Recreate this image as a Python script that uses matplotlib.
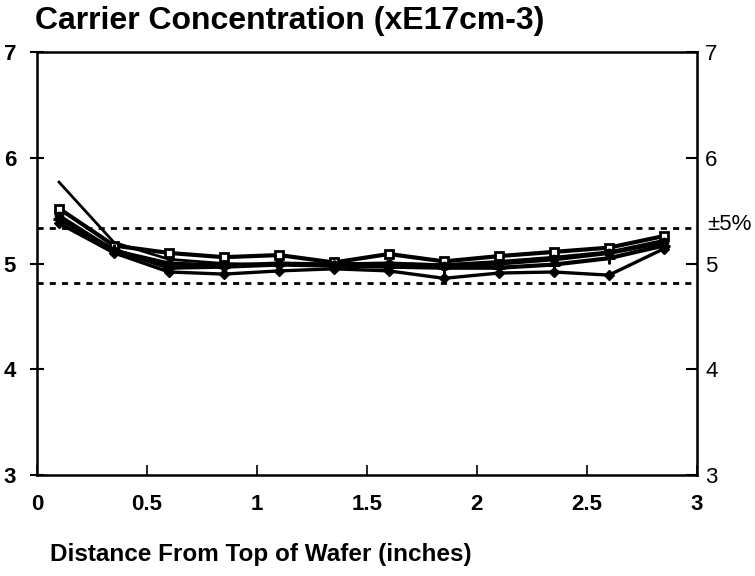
import matplotlib
matplotlib.use("Agg")
import matplotlib.pyplot as plt

plt.rcParams['font.family'] = ['Liberation Sans', 'DejaVu Sans']

# measurement positions along the wafer (inches)
distance = [0.1, 0.35, 0.6, 0.85, 1.1, 1.35, 1.6, 1.85, 2.1, 2.35, 2.6, 2.85]

# carrier concentration, units of 1E17 cm-3
run_a = [5.52, 5.17, 5.10, 5.06, 5.08, 5.01, 5.09, 5.02, 5.07, 5.11, 5.15, 5.26]
run_b = [5.38, 5.10, 4.92, 4.90, 4.93, 4.95, 4.93, 4.86, 4.91, 4.92, 4.89, 5.14]
run_c = [5.45, 5.12, 5.00, 4.98, 5.00, 4.99, 5.00, 4.98, 5.00, 5.04, 5.10, 5.20]
run_d = [5.42, 5.13, 4.96, 4.97, 4.99, 4.98, 4.97, 4.96, 4.96, 4.99, 5.05, 5.17]
run_e = [5.77, 5.20, 5.04, 5.00, 4.99, 5.00, 5.00, 4.99, 5.02, 5.06, 5.11, 5.22]

# +/-5% band
band_hi = 5.34
band_lo = 4.82

x_ticks = [0, 0.5, 1, 1.5, 2, 2.5, 3]
x_labels = ['0', '0.5', '1', '1.5', '2', '2.5', '3']
y_ticks = [3, 4, 5, 6, 7]

fig = plt.figure(figsize=(7.55, 5.76), dpi=100)
ax = fig.add_axes([0.049, 0.1753, 0.874, 0.7344])

ax.plot(distance, run_a, color='black', lw=3, marker='s', ms=6, mfc='white', mew=2)
ax.plot(distance, run_b, color='black', lw=2.4, marker='D', ms=5)
ax.plot(distance, run_c, color='black', lw=3, marker='o', ms=6)
ax.plot(distance, run_d, color='black', lw=3, marker='+', ms=8, mew=2.2)
ax.plot(distance, run_e, color='black', lw=2)

for level in (band_hi, band_lo):
    ax.axhline(level, color='black', lw=2, ls=(0, (2.2, 2.2)))

ax.set_xlim(0, 3)
ax.set_ylim(3, 7)
ax.set_xticks(x_ticks)
ax.set_xticklabels(x_labels, fontsize=16, fontweight='bold')
ax.set_yticks(y_ticks)
ax.set_yticklabels([str(v) for v in y_ticks], fontsize=16, fontweight='bold')
ax.tick_params(axis='x', direction='in', length=7, width=1.2, pad=14, top=False)
ax.tick_params(axis='y', direction='inout', length=10, width=1.5, pad=10)
for s in ax.spines.values():
    s.set_linewidth(1.8)

ax2 = ax.twinx()
ax2.set_ylim(3, 7)
ax2.set_yticks(y_ticks)
ax2.set_yticklabels([str(v) for v in y_ticks], fontsize=16)
ax2.tick_params(axis='y', direction='in', length=8, width=1.5, pad=6)
ax2.text(3.045, band_hi + 0.03, '±5%', fontsize=16, va='center', ha='left',
         transform=ax.transData, clip_on=False)

fig.text(0.047, 0.963, 'Carrier Concentration (xE17cm-3)', fontsize=23,
         fontweight='bold', ha='left', va='center')
fig.text(0.346, 0.038, 'Distance From Top of Wafer (inches)', fontsize=17.5,
         fontweight='bold', ha='center', va='center')

fig.savefig('out.png', dpi=100)
